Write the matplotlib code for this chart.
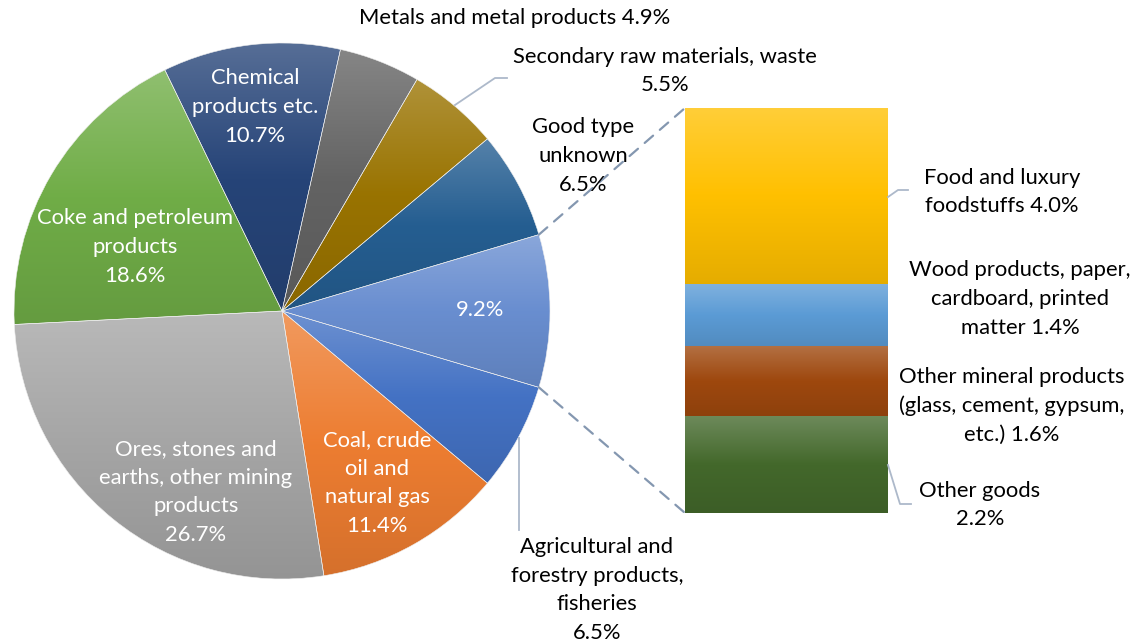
import numpy as np
import matplotlib.pyplot as plt
from matplotlib.colors import to_rgb
from matplotlib.patches import ConnectionPatch

# pie slices, counter-clockwise starting with the "other" slice on the right
pie_labels = ["", "Good type\nunknown", "Secondary raw materials, waste",
              "Metals and metal products", "Chemical\nproducts etc.",
              "Coke and petroleum\nproducts", "Ores, stones and\nearths, other mining\nproducts",
              "Coal, crude\noil and\nnatural gas", "Agricultural and\nforestry products,\nfisheries"]
pie_values = [9.2, 6.5, 5.5, 4.9, 10.7, 18.6, 26.7, 11.4, 6.5]
pie_colors = ["#698ED0", "#255E91", "#997300", "#636363", "#264478",
              "#70AD47", "#A5A5A5", "#ED7D31", "#4472C4"]

# breakdown of the 9.2% slice, bottom to top
bar_labels = ["Other goods", "Other mineral products\n(glass, cement, gypsum,\netc.)",
              "Wood products, paper,\ncardboard, printed\nmatter", "Food and luxury\nfoodstuffs"]
bar_values = [2.2, 1.6, 1.4, 4.0]
bar_colors = ["#43682B", "#9E480E", "#5B9BD5", "#FFC000"]

W, H = 1138, 644
FONT = "Lato"
FS = 15.8


def px(x, y):
    return x / W, 1 - y / H


def gradient_fill(ax, patch, color):
    # Excel-like vertical gradient: tint at top, base in the middle, shade at bottom
    base = np.array(to_rgb(color))
    top = base + (1 - base) * 0.22
    bot = base * 0.9
    t = np.linspace(0, 1, 64)[:, None]
    low = bot + (base - bot) * np.clip(t * 2, 0, 1)
    high = base + (top - base) * np.clip(t * 2 - 1, 0, 1)
    rgb = np.where(t < 0.5, low, high)
    img = rgb[:, None, :]
    bb = patch.get_path().get_extents(patch.get_patch_transform())
    im = ax.imshow(img, extent=(bb.x0, bb.x1, bb.y0, bb.y1), origin="lower",
                   aspect="auto", interpolation="bilinear", zorder=0.5)
    im.set_clip_path(patch)
    patch.set_facecolor("none")


fig = plt.figure(figsize=(W / 100, H / 100), dpi=100)

# pie
cx, cy, r = 282, 311, 268
ax1 = fig.add_axes([(cx - r) / W, 1 - (cy + r) / H, 2 * r / W, 2 * r / H])
start = -pie_values[0] / 100 * 360 / 2
wedges, _ = ax1.pie(pie_values, colors=pie_colors, startangle=start, counterclock=True,
                    wedgeprops=dict(edgecolor="#EEEEEE", linewidth=0.4))
for w, c in zip(wedges, pie_colors):
    gradient_fill(ax1, w, c)
ax1.set_xlim(-1, 1)
ax1.set_ylim(-1, 1)
ax1.set_aspect("equal")
ax1.axis("off")

# stacked bar
ax2 = fig.add_axes([685 / W, 1 - 513 / H, (888 - 685) / W, (513 - 108) / H])
bottom = 0
for v, c in zip(bar_values, bar_colors):
    b = ax2.bar(0.5, v, width=1, bottom=bottom, color=c, linewidth=0)
    gradient_fill(ax2, b[0], c)
    bottom += v
ax2.set_xlim(0, 1)
ax2.set_ylim(0, sum(bar_values))
ax2.axis("off")

# dashed connectors from the "other" slice to the bar
th1, th2 = wedges[0].theta1, wedges[0].theta2
for th, yb in [(th2, sum(bar_values)), (th1, 0)]:
    con = ConnectionPatch(xyA=(np.cos(np.radians(th)), np.sin(np.radians(th))), coordsA=ax1.transData,
                          xyB=(0, yb), coordsB=ax2.transData,
                          color="#8497B0", linestyle=(0, (5, 4)), linewidth=1.6)
    fig.add_artist(con)

# leader lines
ov = fig.add_axes([0, 0, 1, 1])
ov.set_xlim(0, W)
ov.set_ylim(H, 0)
ov.axis("off")
ov.patch.set_alpha(0)
lc = "#ADB9CA"
ov.plot([507, 495, 455], [78, 78, 105], color=lc, lw=1.3)
ov.plot([519, 519], [438, 530], color=lc, lw=1.3)
ov.plot([888, 898, 908], [197, 190, 190], color=lc, lw=1.3)
ov.plot([888, 900, 911], [465, 504, 504], color=lc, lw=1.3)


def txt(x, y, s, color="black"):
    fig.text(*px(x, y), s, ha="center", va="center", color=color,
             fontsize=FS, family=FONT, linespacing=1.55)


def pct(v):
    return f"{v:.1f}%"


# pie labels
txt(515, 18, f"{pie_labels[3]} {pct(pie_values[3])}")
txt(665, 71, f"{pie_labels[2]}\n{pct(pie_values[2])}")
txt(583, 156, f"{pie_labels[1]}\n{pct(pie_values[1])}")
txt(480, 310, pct(pie_values[0]), "white")
txt(255, 107, f"{pie_labels[4]}\n{pct(pie_values[4])}", "white")
txt(135, 247, f"{pie_labels[5]}\n{pct(pie_values[5])}", "white")
txt(196, 492, f"{pie_labels[6]}\n{pct(pie_values[6])}", "white")
txt(377, 483, f"{pie_labels[7]}\n{pct(pie_values[7])}", "white")
txt(597, 590, f"{pie_labels[8]}\n{pct(pie_values[8])}")

# bar labels
txt(1002, 192, f"{bar_labels[3]} {pct(bar_values[3])}")
txt(1020, 299, f"{bar_labels[2]} {pct(bar_values[2])}")
txt(1012, 406, f"{bar_labels[1]} {pct(bar_values[1])}")
txt(980, 505, f"{bar_labels[0]}\n{pct(bar_values[0])}")

fig.savefig("out.png", dpi=100)
